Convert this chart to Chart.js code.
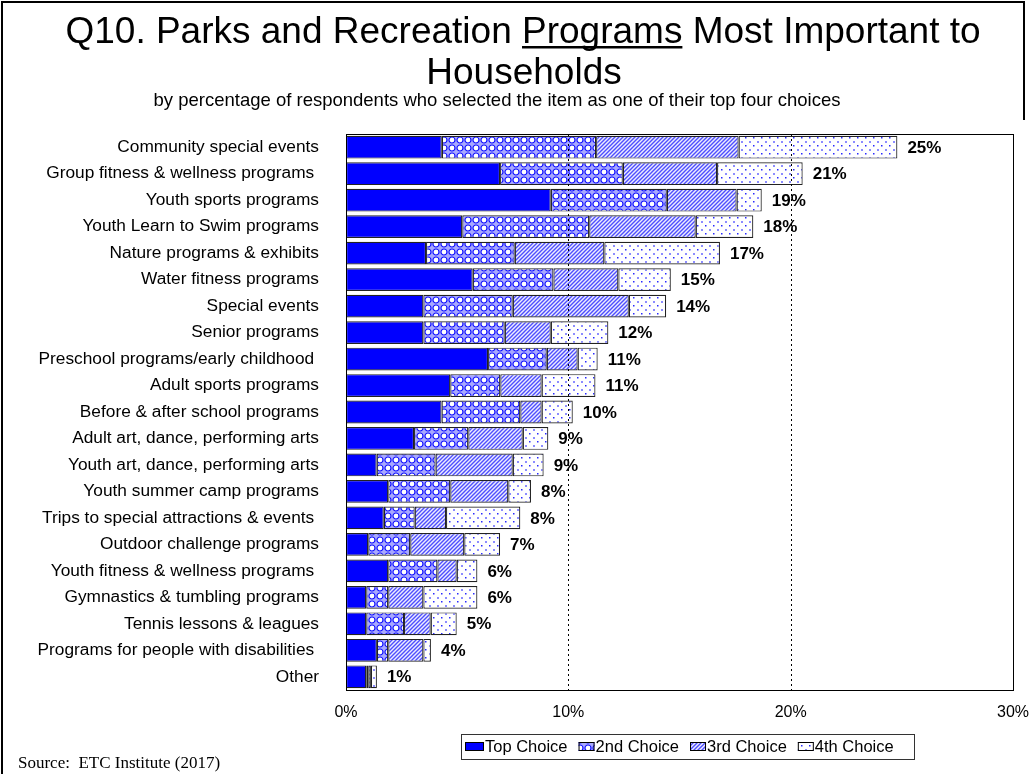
<!DOCTYPE html>
<html>
<head>
<meta charset="utf-8">
<title>Q10. Parks and Recreation Programs Most Important to Households</title>
<script src="https://cdn.jsdelivr.net/npm/chart.js@4.4.1/dist/chart.umd.min.js"></script>
<style>
  html, body { margin: 0; padding: 0; background: #fff; }
  canvas { display: block; }
</style>
</head>
<body>
<canvas id="programsChart" width="1031" height="774"></canvas>
<script>
// programs, top to bottom
const categories = [
  'Community special events',
  'Group fitness & wellness programs ',
  'Youth sports programs',
  'Youth Learn to Swim programs',
  'Nature programs & exhibits',
  'Water fitness programs',
  'Special events',
  'Senior programs',
  'Preschool programs/early childhood ',
  'Adult sports programs',
  'Before & after school programs',
  'Adult art, dance, performing arts',
  'Youth art, dance, performing arts',
  'Youth summer camp programs',
  'Trips to special attractions & events ',
  'Outdoor challenge programs',
  'Youth fitness & wellness programs ',
  'Gymnastics & tumbling programs',
  'Tennis lessons & leagues',
  'Programs for people with disabilities ',
  'Other'
];

// percent of respondents for each choice rank
const topChoice    = [4.31, 6.93, 9.21, 5.23, 3.60, 5.70, 3.48, 3.48, 6.39, 4.69, 4.30, 3.06, 1.38, 1.90, 1.70, 1.00, 1.90, 0.91, 0.91, 1.39, 0.91];
const secondChoice = [6.94, 5.52, 5.22, 5.71, 3.99, 3.63, 4.02, 3.66, 2.64, 2.25, 3.54, 2.44, 2.65, 2.79, 1.39, 1.89, 2.21, 0.99, 1.70, 0.51, 0.09];
const thirdChoice  = [6.41, 4.24, 3.14, 4.79, 4.03, 2.92, 5.22, 2.07, 1.39, 1.86, 0.96, 2.45, 3.47, 2.61, 1.41, 2.43, 0.87, 1.58, 1.20, 1.58, 0.12];
const fourthChoice = [7.14, 3.85, 1.13, 2.59, 5.20, 2.36, 1.68, 2.59, 0.90, 2.42, 1.40, 1.15, 1.39, 1.02, 3.34, 1.61, 0.93, 2.43, 1.17, 0.34, 0.27];

const seriesNames = ['Top Choice', '2nd Choice', '3rd Choice', '4th Choice'];
const xTicks = [0, 10, 20, 30];

const SANS = "'Liberation Sans', Arial, sans-serif";
const SERIF = "'Liberation Serif', 'Times New Roman', serif";

// fill patterns
function makeTile(w, h, draw) {
  const c = document.createElement('canvas');
  c.width = w; c.height = h;
  const g = c.getContext('2d');
  draw(g);
  return g.createPattern(c, 'repeat');
}

const circlePattern = makeTile(8, 8, g => {
  g.fillStyle = '#a8a8ff';
  g.fillRect(0, 0, 8, 8);
  g.beginPath();
  g.arc(4, 4, 3, 0, Math.PI * 2);
  g.fillStyle = '#ffffff';
  g.fill();
  g.strokeStyle = '#1010ff';
  g.lineWidth = 1.2;
  g.stroke();
});

const hatchPattern = makeTile(4, 4, g => {
  g.fillStyle = '#ececff';
  g.fillRect(0, 0, 4, 4);
  g.strokeStyle = '#4e4eff';
  g.lineWidth = 1.4;
  g.beginPath();
  g.moveTo(-1, 5); g.lineTo(5, -1);
  g.moveTo(-1, 1); g.lineTo(1, -1);
  g.moveTo(3, 5); g.lineTo(5, 3);
  g.stroke();
});

const dotPattern = makeTile(8, 8, g => {
  g.fillStyle = '#ffffff';
  g.fillRect(0, 0, 8, 8);
  g.fillStyle = '#2a2aff';
  g.fillRect(1, 1, 1.5, 1.5);
  g.fillStyle = '#8c8cff';
  g.fillRect(5, 5, 2, 2);
});

const fills = ['#0000ff', circlePattern, hatchPattern, dotPattern];
const seriesData = [topChoice, secondChoice, thirdChoice, fourthChoice];

const totals = categories.map((_, i) =>
  topChoice[i] + secondChoice[i] + thirdChoice[i] + fourthChoice[i]);

// title block, frame and source line
const pageText = {
  id: 'pageText',
  beforeDraw(chart) {
    const ctx = chart.ctx;
    ctx.save();
    ctx.fillStyle = '#fff';
    ctx.fillRect(0, 0, chart.width, chart.height);

    ctx.strokeStyle = '#000';
    ctx.lineWidth = 2;
    ctx.beginPath();
    ctx.moveTo(2, chart.height);
    ctx.lineTo(2, 2);
    ctx.lineTo(1024, 2);
    ctx.lineTo(1024, 120);
    ctx.stroke();

    ctx.fillStyle = '#000';
    ctx.textBaseline = 'alphabetic';
    ctx.font = '37px ' + SANS;
    const line1 = 'Q10. Parks and Recreation Programs Most Important to';
    const w1 = ctx.measureText(line1).width;
    const x1 = 523 - w1 / 2;
    ctx.textAlign = 'left';
    ctx.fillText(line1, x1, 43);
    const uStart = x1 + ctx.measureText('Q10. Parks and Recreation ').width;
    const uWidth = ctx.measureText('Programs').width;
    ctx.fillRect(uStart, 46, uWidth, 2.5);

    ctx.textAlign = 'center';
    ctx.fillText('Households', 524, 84);

    ctx.font = '18.5px ' + SANS;
    ctx.fillText('by percentage of respondents who selected the item as one of their top four choices', 497, 106);

    ctx.textAlign = 'left';
    ctx.font = '17px ' + SERIF;
    ctx.fillText('Source:  ETC Institute (2017)', 18, 768);
    ctx.restore();
  },
  afterDraw(chart) {
    const ctx = chart.ctx;
    const a = chart.chartArea;
    const xs = chart.scales.x;
    ctx.save();

    // dotted reference lines
    ctx.strokeStyle = '#000';
    ctx.lineWidth = 1;
    ctx.setLineDash([2, 3]);
    [10, 20].forEach(v => {
      const px = Math.round(xs.getPixelForValue(v)) + 0.5;
      ctx.beginPath();
      ctx.moveTo(px, a.top);
      ctx.lineTo(px, a.bottom);
      ctx.stroke();
    });
    ctx.setLineDash([]);

    // plot frame
    ctx.strokeRect(Math.round(a.left) + 0.5, Math.round(a.top) + 0.5,
      Math.round(a.right - a.left), Math.round(a.bottom - a.top));

    // total labels
    const last = chart.getDatasetMeta(3);
    ctx.font = 'bold 17px ' + SANS;
    ctx.fillStyle = '#000';
    ctx.textAlign = 'left';
    ctx.textBaseline = 'middle';
    last.data.forEach((bar, i) => {
      ctx.fillText(Math.round(totals[i]) + '%', bar.x + 10, bar.y + 1);
    });

    // legend box
    ctx.strokeStyle = '#333';
    ctx.strokeRect(461.5, 734.5, 453, 25);
    ctx.font = '16.5px ' + SANS;
    ctx.textBaseline = 'middle';
    let lx = 465;
    seriesNames.forEach((name, k) => {
      const sw = k === 0 ? 19 : 16;
      ctx.fillStyle = fills[k];
      ctx.fillRect(lx, 742, sw, 9);
      ctx.strokeStyle = '#000';
      ctx.strokeRect(lx + 0.5, 742.5, sw - 1, 8);
      lx += sw + 1;
      ctx.fillStyle = '#000';
      ctx.fillText(name, lx, 747);
      lx += ctx.measureText(name).width + 11;
    });
    ctx.restore();
  }
};

new Chart(document.getElementById('programsChart'), {
  type: 'bar',
  data: {
    labels: categories,
    datasets: seriesData.map((values, k) => ({
      label: seriesNames[k],
      data: values,
      backgroundColor: fills[k],
      borderColor: '#222',
      borderWidth: 1.2,
      borderSkipped: false,
      barPercentage: 0.86,
      categoryPercentage: 1
    }))
  },
  options: {
    indexAxis: 'y',
    responsive: false,
    animation: false,
    layout: { padding: { top: 134, right: 18, bottom: 0, left: 0 } },
    plugins: {
      legend: { display: false },
      tooltip: { enabled: false },
      title: { display: false }
    },
    scales: {
      x: {
        stacked: true,
        min: 0,
        max: 30,
        afterBuildTicks: s => { s.ticks = xTicks.map(v => ({ value: v })); },
        afterFit: s => {
          s.height = 84;
          s.paddingRight = 0;
          s.paddingLeft = 0;
        },
        ticks: {
          callback: v => v + '%',
          color: '#000',
          font: { family: SANS, size: 16 },
          padding: 13,
          maxRotation: 0
        },
        grid: { display: false, drawTicks: false },
        border: { display: true, color: '#000', width: 1 }
      },
      y: {
        stacked: true,
        afterFit: s => { s.width = 346; },
        ticks: {
          color: '#000',
          font: { family: SANS, size: 17.3 },
          padding: 27,
          autoSkip: false
        },
        grid: { display: false, drawTicks: false },
        border: { display: true, color: '#000', width: 1 }
      }
    }
  },
  plugins: [pageText]
});
</script>
</body>
</html>
